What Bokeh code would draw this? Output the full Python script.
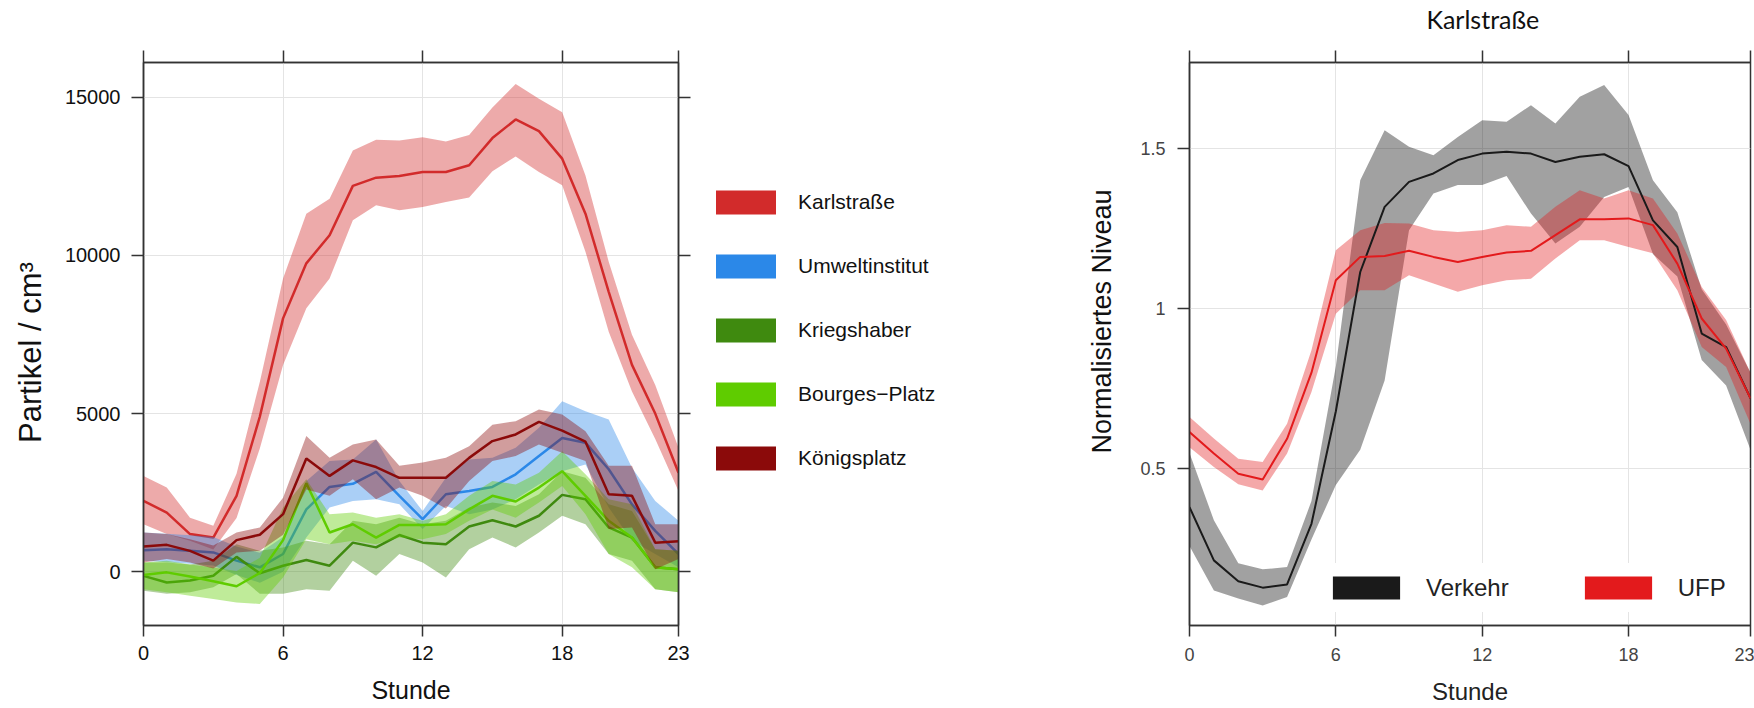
from bokeh.plotting import figure
from bokeh.models import (Range1d, FixedTicker, LinearAxis, Legend, LegendItem,
                          CustomJSTickFormatter)
from bokeh.layouts import row
from bokeh.embed import file_html
from bokeh.resources import INLINE

# ---------------- data ----------------
hours = list(range(24))
x_ticks = [0, 6, 12, 18, 23]

stations = ["Karlstraße", "Umweltinstitut", "Kriegshaber", "Bourges\u2212Platz", "Königsplatz"]
station_colors = ["#d22b2b", "#2b88e8", "#3f8a0f", "#5fcc00", "#8b0a0a"]

karl_mean = [2240, 1870, 1190, 1080, 2400, 4900, 8010, 9750, 10640, 12200, 12460, 12510,
             12640, 12640, 12850, 13710, 14300, 13930, 13060, 11320, 8850, 6540, 5000, 3130]
karl_up = [3030, 2660, 1710, 1450, 3100, 6000, 9270, 11320, 11790, 13320, 13660, 13630,
           13740, 13600, 13810, 14680, 15420, 14950, 14530, 12530, 9800, 7490, 5900, 3920]
karl_lo = [1500, 1190, 980, 700, 1700, 3900, 6540, 8330, 9270, 11110, 11590, 11430,
           11530, 11690, 11830, 12660, 13130, 12640, 12220, 10120, 7590, 5700, 4200, 2550]

umw_mean = [680, 710, 660, 610, 350, 140, 560, 1970, 2680, 2780, 3160, 2400,
            1660, 2450, 2550, 2680, 3080, 3660, 4230, 4080, 3240, 2130, 1290, 560]
umw_up = [1240, 1200, 1150, 1100, 800, 600, 1100, 2870, 3500, 3550, 4180, 2870,
          1920, 2970, 3550, 3600, 3920, 4550, 5390, 5070, 4810, 3290, 2240, 1610]
umw_lo = [350, 300, 250, 200, -100, -350, 0, 1080, 2030, 2240, 2290, 2130,
          1350, 2080, 1820, 1970, 2290, 2760, 3180, 3390, 2030, 980, 560, 140]

krieg_mean = [-130, -340, -280, -130, 470, -50, 190, 370, 190, 920, 770, 1160,
              920, 870, 1430, 1630, 1430, 1770, 2430, 2290, 1400, 1080, 140, 80]
krieg_up = [290, 290, 230, 350, 870, 660, 770, 980, 870, 1610, 1500, 1710,
            1500, 1610, 2030, 2190, 2080, 2450, 3180, 2970, 2130, 1920, 710, 660]
krieg_lo = [-600, -700, -650, -490, -70, -700, -700, -550, -600, 350, -130, 560,
            290, -180, 710, 1080, 770, 1240, 1770, 1500, 560, 350, -550, -650]

bourges_mean = [-100, -20, -150, -300, -460, -40, 1000, 2800, 1240, 1500, 1080, 1480,
                1480, 1500, 1970, 2400, 2220, 2660, 3180, 2400, 1610, 1080, 140, 80]
bourges_up = [290, 350, 230, 130, 20, 440, 2030, 2920, 1820, 1870, 1710, 1820,
              1610, 1820, 2400, 2870, 2760, 3130, 3810, 3080, 2290, 2130, 710, 660]
bourges_lo = [-550, -650, -760, -860, -970, -1020, -180, 1030, 870, 980, 870, 1080,
              1030, 1190, 1610, 1970, 1710, 2190, 2710, 1820, 560, 140, -550, -650]

koenig_mean = [800, 850, 660, 350, 1000, 1170, 1820, 3580, 3030, 3520, 3310, 2970,
               2970, 2970, 3600, 4130, 4340, 4740, 4460, 4110, 2450, 2400, 920, 960]
koenig_up = [1240, 1190, 1030, 830, 1240, 1400, 2340, 4290, 3600, 4020, 4180, 3350,
             3450, 3600, 3970, 4650, 4760, 5130, 4970, 4440, 3350, 3350, 1500, 1500]
koenig_lo = [290, 400, 290, 100, 610, 660, 1170, 2600, 2400, 2920, 2290, 2660,
             2400, 2000, 2870, 3500, 3660, 4020, 3760, 3500, 1350, 1400, 80, 400]

left_y_ticks = [0, 5000, 10000, 15000]

right_title = "Karlstraße"
right_series = ["Verkehr", "UFP"]
right_colors = ["#1a1a1a", "#e31a1c"]
verkehr_mean = [0.381, 0.215, 0.150, 0.130, 0.140, 0.329, 0.68, 1.114, 1.317, 1.395, 1.421, 1.463,
                1.483, 1.489, 1.483, 1.457, 1.473, 1.481, 1.444, 1.275, 1.192, 0.922, 0.880, 0.72]
verkehr_up = [0.55, 0.34, 0.206, 0.187, 0.194, 0.40, 0.82, 1.40, 1.556, 1.504, 1.478, 1.535,
              1.587, 1.582, 1.634, 1.577, 1.660, 1.697, 1.603, 1.40, 1.30, 1.06, 0.95, 0.80]
verkehr_lo = [0.26, 0.121, 0.096, 0.074, 0.101, 0.28, 0.45, 0.56, 0.776, 1.244, 1.359, 1.385,
              1.385, 1.413, 1.296, 1.203, 1.255, 1.348, 1.379, 1.17, 1.10, 0.84, 0.76, 0.56]
ufp_mean = [0.615, 0.548, 0.485, 0.467, 0.594, 0.80, 1.088, 1.161, 1.164, 1.180, 1.161, 1.145,
            1.161, 1.175, 1.180, 1.229, 1.278, 1.278, 1.281, 1.260, 1.140, 0.969, 0.875, 0.72]
ufp_up = [0.662, 0.595, 0.532, 0.522, 0.641, 0.87, 1.182, 1.244, 1.267, 1.265, 1.244, 1.239,
          1.244, 1.260, 1.255, 1.317, 1.369, 1.343, 1.369, 1.343, 1.234, 1.067, 0.964, 0.80]
ufp_lo = [0.568, 0.506, 0.452, 0.433, 0.548, 0.74, 0.984, 1.057, 1.057, 1.104, 1.078, 1.052,
          1.073, 1.088, 1.093, 1.156, 1.213, 1.213, 1.192, 1.172, 1.057, 0.880, 0.818, 0.64]
right_y_ticks = [0.5, 1.0, 1.5]

FONT = "Liberation Sans"
AX = "#333333"
H = 708
TOP = 61
BOTTOM = 83
NB = "\u00a0"


def style_axis(ax, ticks, size, color, tick_len, standoff, hide=False):
    ax.ticker = FixedTicker(ticks=ticks)
    ax.major_tick_out = tick_len
    ax.major_tick_in = 0
    ax.minor_tick_out = 0
    ax.minor_tick_in = 0
    ax.axis_line_color = AX
    ax.axis_line_width = 1.5
    ax.major_tick_line_color = AX
    ax.major_tick_line_width = 1.5
    ax.major_label_text_font = FONT
    ax.major_label_text_font_size = size
    ax.major_label_text_color = color
    ax.major_label_standoff = standoff
    ax.axis_label_text_font = FONT
    ax.axis_label_text_font_style = "normal"
    if hide:
        ax.formatter = CustomJSTickFormatter(code="return ''")


# ---------------- left figure ----------------
p1 = figure(width=698, height=H, x_range=Range1d(0, 23), y_range=Range1d(-1700, 16100),
            output_backend="svg", toolbar_location=None,
            min_border_left=143, min_border_right=20, min_border_top=TOP, min_border_bottom=BOTTOM)
p1.outline_line_color = AX
p1.outline_line_width = 1.5

xa = p1.xaxis[0]
style_axis(xa, x_ticks, "20px", "#111111", 11, 9)
xa.axis_label = "Stunde"
xa.axis_label_text_font_size = "25px"
xa.axis_label_text_color = "#111111"
xa.axis_label_standoff = 13

ya = p1.yaxis[0]
style_axis(ya, left_y_ticks, "20px", "#111111", 12, 11)
ya.axis_label = "Partikel / cm³" + NB * 2
ya.axis_label_text_font_size = "31px"
ya.axis_label_text_color = "#111111"
ya.axis_label_standoff = 14

top1 = LinearAxis()
style_axis(top1, x_ticks, "1px", "#111111", 12, 0, hide=True)
p1.add_layout(top1, "above")
right1 = LinearAxis()
style_axis(right1, left_y_ticks, "1px", "#111111", 12, 0, hide=True)
p1.add_layout(right1, "right")

for g in (p1.xgrid[0], p1.ygrid[0]):
    g.grid_line_color = "#e4e4e4"
    g.grid_line_width = 1
p1.xgrid[0].ticker = FixedTicker(ticks=x_ticks)
p1.ygrid[0].ticker = FixedTicker(ticks=left_y_ticks)

left_data = [
    (karl_mean, karl_up, karl_lo),
    (umw_mean, umw_up, umw_lo),
    (krieg_mean, krieg_up, krieg_lo),
    (bourges_mean, bourges_up, bourges_lo),
    (koenig_mean, koenig_up, koenig_lo),
]
for (m, up, lo), col in zip(left_data, station_colors):
    p1.varea(x=hours, y1=lo, y2=up, fill_color=col, fill_alpha=0.4)
    p1.line(x=hours, y=m, line_color=col, line_width=2.5)

# ---------------- legend strip for left figure ----------------
pl = figure(width=342, height=H, x_range=Range1d(0, 23), y_range=Range1d(-1700, 16100),
            x_axis_type=None, y_axis_type=None, output_backend="svg", toolbar_location=None,
            min_border_left=0, min_border_right=0, min_border_top=0, min_border_bottom=0)
pl.outline_line_color = None
pl.grid.visible = False
items1 = []
for (m, up, lo), name, col in zip(left_data, stations, station_colors):
    # zero-height area along the mean: invisible in the plot, opaque patch in the legend
    r = pl.varea(x=hours, y1=m, y2=m, fill_color=col, fill_alpha=1.0)
    items1.append(LegendItem(label=name, renderers=[r]))
leg1 = Legend(items=items1, location=(10, 152), orientation="vertical",
              glyph_width=75, glyph_height=30, label_height=30, label_standoff=15,
              spacing=34, padding=0, margin=0, border_line_alpha=0, background_fill_alpha=0,
              label_text_font=FONT, label_text_font_size="21px", label_text_color="#111111")
pl.add_layout(leg1)

# ---------------- right figure ----------------
p2 = figure(width=714, height=H, x_range=Range1d(0, 23), y_range=Range1d(0.012, 1.767),
            output_backend="svg", toolbar_location=None,
            min_border_left=149, min_border_right=4, min_border_top=TOP, min_border_bottom=BOTTOM)
p2.outline_line_color = AX
p2.outline_line_width = 1.5

xb = p2.xaxis[0]
style_axis(xb, x_ticks, "18px", "#444444", 11, 11)
xb.axis_label = "Stunde"
xb.axis_label_text_font_size = "24px"
xb.axis_label_text_color = "#222222"
xb.axis_label_standoff = 14

yb = p2.yaxis[0]
style_axis(yb, right_y_ticks, "18px", "#444444", 12, 12)
yb.axis_label = NB * 6 + "Normalisiertes Niveau"
yb.axis_label_text_font_size = "27px"
yb.axis_label_text_color = "#111111"
yb.axis_label_standoff = 20

top2 = LinearAxis()
style_axis(top2, x_ticks, "1px", "#111111", 12, 0, hide=True)
top2.axis_label = NB * 4 + right_title
top2.axis_label_text_font = "Lato"
top2.axis_label_text_font_size = "25px"
top2.axis_label_text_color = "#111111"
top2.axis_label_standoff = 17
p2.add_layout(top2, "above")

for g in (p2.xgrid[0], p2.ygrid[0]):
    g.grid_line_color = "#e4e4e4"
    g.grid_line_width = 1
p2.xgrid[0].ticker = FixedTicker(ticks=x_ticks)
p2.ygrid[0].ticker = FixedTicker(ticks=right_y_ticks)

p2.varea(x=hours, y1=verkehr_lo, y2=verkehr_up, fill_color="#000000", fill_alpha=0.37)
p2.varea(x=hours, y1=ufp_lo, y2=ufp_up, fill_color=right_colors[1], fill_alpha=0.38)
p2.line(x=hours, y=verkehr_mean, line_color=right_colors[0], line_width=2)
p2.line(x=hours, y=ufp_mean, line_color=right_colors[1], line_width=2)

items2 = []
for m, name, col in zip([verkehr_mean, ufp_mean], right_series, right_colors):
    r = p2.varea(x=hours, y1=m, y2=m, fill_color=col, fill_alpha=1.0)
    items2.append(LegendItem(label=name, renderers=[r]))
leg2 = Legend(items=items2, location=(125, 13), orientation="horizontal",
              glyph_width=84, glyph_height=29, label_height=29, label_standoff=18,
              spacing=67, padding=10, margin=0, border_line_alpha=0,
              background_fill_color="white", background_fill_alpha=1.0,
              label_text_font=FONT, label_text_font_size="24px", label_text_color="#222222")
p2.add_layout(leg2)

layout = row(p1, pl, p2)
open("out.html", "w").write(file_html(layout, INLINE))
